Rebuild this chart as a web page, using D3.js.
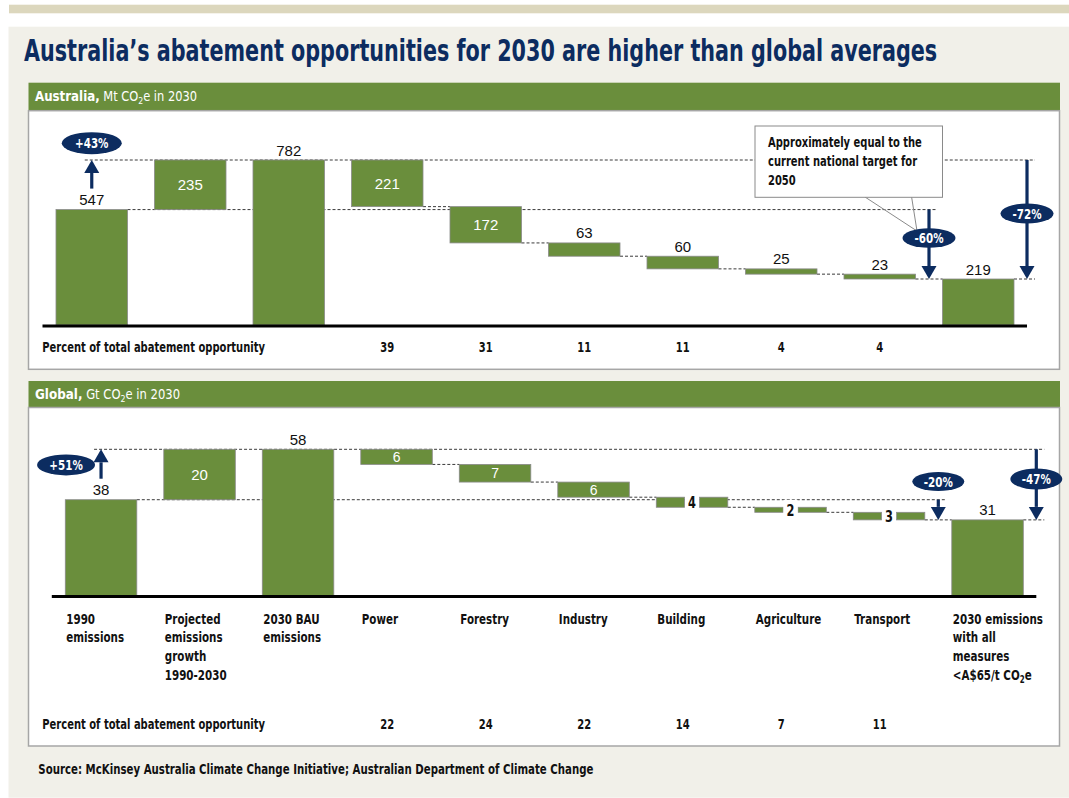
<!DOCTYPE html>
<html><head><meta charset="utf-8">
<script src="https://cdn.jsdelivr.net/npm/d3@7"></script>
<style>body{margin:0;background:#fff}svg{display:block}</style>
</head><body><svg id="c" width="1069" height="798"></svg>
<script>
// ---------- DATA ----------
const titleText = "Australia’s abatement opportunities for 2030 are higher than global averages";
const categories = [
  ["1990","emissions"],
  ["Projected","emissions","growth","1990-2030"],
  ["2030 BAU","emissions"],
  ["Power"],["Forestry"],["Industry"],["Building"],["Agriculture"],["Transport"],
  ["2030 emissions","with all","measures","<A$65/t CO₂e"]
];
const stepTypes = ["total","increase","total","decrease","decrease","decrease","decrease","decrease","decrease","result"];
const ausValues = [547, 235, 782, 221, 172, 63, 60, 25, 23, 219];
const ausPercent = [null, null, null, 39, 31, 11, 11, 4, 4, null];
const globalValues = [38, 20, 58, 6, 7, 6, 4, 2, 3, 31];
const globalPercent = [null, null, null, 22, 24, 22, 14, 7, 11, null];
const ausChanges = ["+43%", "-60%", "-72%"];
const globalChanges = ["+51%", "-20%", "-47%"];
const ausHeader = ["Australia,", " Mt CO₂e in 2030"];
const globalHeader = ["Global,", " Gt CO₂e in 2030"];
const percentRowLabel = "Percent of total abatement opportunity";
const calloutLines = ["Approximately equal to the", "current national target for", "2050"];
const sourceText = "Source: McKinsey Australia Climate Change Initiative; Australian Department of Climate Change";

// ---------- STYLE ----------
const NARROW = "'Liberation Sans Narrow','Arial Narrow','DejaVu Sans Condensed',sans-serif";
const SANS = "'Liberation Sans',Arial,'DejaVu Sans',sans-serif";
const GREEN = "#6a8e3c", NAVY = "#0c2c60", DASH = "#3a3a3a", BORDER = "#a6a6a6";

const svg = d3.select("#c");

// measure condensation factor for the narrow bold face (reference label width 223px at 14px)
const probe = svg.append("text").attr("font-family", NARROW).attr("font-weight", "bold").attr("font-size", 14).text(percentRowLabel);
const F = Math.min(1, 223 / probe.node().getComputedTextLength());
probe.remove();

// narrow text helper: group with horizontal squeeze
function nt(parent, x, y, opts = {}) {
  const g = parent.append("g").attr("transform", `translate(${x},${y}) scale(${opts.sx || F},1)`);
  return g.append("text").attr("x", 0).attr("y", 0)
    .attr("font-family", NARROW).attr("font-weight", opts.weight || "bold")
    .attr("font-size", opts.size || 14).attr("fill", opts.fill || "#111")
    .attr("text-anchor", opts.anchor || "start");
}
function fitTo(textSel, width) {
  const w = textSel.node().getBBox().width;
  const g = d3.select(textSel.node().parentNode);
  const tr = g.attr("transform").replace(/scale\([^)]*\)/, `scale(${width / w},1)`);
  g.attr("transform", tr);
}

function richText(sel, str, subSize) {
  const parts = str.split("₂");
  parts.forEach((p, k) => {
    if (k > 0) {
      sel.append("tspan").attr("font-size", subSize).attr("dy", 3).text("2");
      sel.append("tspan").attr("dy", -3).text(p);
    } else sel.append("tspan").text(p);
  });
}

function waterfall(values) {
  let run = 0;
  return values.map((v, i) => {
    const t = stepTypes[i]; let y0, y1;
    if (t === "total") { y0 = 0; y1 = v; run = v; }
    else if (t === "increase") { y0 = run; y1 = run + v; run = y1; }
    else if (t === "decrease") { y1 = run; y0 = run - v; run = y0; }
    else { y0 = 0; y1 = run; }
    return { i, v, t, y0, y1, end: run };
  });
}

function arrow(g, x, yFrom, yTo) {
  const dir = yTo > yFrom ? 1 : -1, head = 13, hw = 7.5;
  g.append("line").attr("x1", x).attr("x2", x).attr("y1", yFrom).attr("y2", yTo - dir * head)
    .attr("stroke", NAVY).attr("stroke-width", 3.2);
  g.append("path").attr("d", `M${x - hw},${yTo - dir * head}L${x + hw},${yTo - dir * head}L${x},${yTo}Z`)
    .attr("fill", NAVY);
}
function badge(g, cx, cy, label, rx, ry) {
  g.append("ellipse").attr("cx", cx).attr("cy", cy).attr("rx", rx).attr("ry", ry).attr("fill", NAVY);
  nt(g, cx, cy, { anchor: "middle", fill: "#fff", size: 14.5 }).attr("dy", "0.36em").text(label);
}
function dashed(g, x1, x2, y) {
  g.append("line").attr("x1", x1).attr("x2", x2).attr("y1", y).attr("y2", y)
    .attr("stroke", DASH).attr("stroke-width", 1).attr("stroke-dasharray", "3,2");
}

// ---------- BACKGROUND ----------
svg.append("rect").attr("x", 9).attr("y", 4.7).attr("width", 1060).attr("height", 8.6).attr("fill", "#dcd7bd");
svg.append("rect").attr("x", 8.5).attr("y", 26.7).attr("width", 1060.5).attr("height", 771).attr("fill", "#f1f0e9");
const title = nt(svg, 24, 61, { size: 30, fill: NAVY }).text(titleText);
fitTo(title, 913);

// Australia x scale is also used for the percent rows of both panels
const ausX = d3.scaleBand().domain(d3.range(ausValues.length)).range([42.5, 1027.5]).paddingInner(0.274).paddingOuter(0.137);

function panel(cfg) {
  const g = svg.append("g");
  // header + body
  g.append("rect").attr("x", 28.5).attr("y", cfg.headTop).attr("width", 1031.5).attr("height", cfg.headH).attr("fill", GREEN);
  g.append("rect").attr("x", 28.5).attr("y", cfg.headTop + cfg.headH).attr("width", 1031)
    .attr("height", cfg.bodyBottom - cfg.headTop - cfg.headH).attr("fill", "#fff").attr("stroke", BORDER).attr("stroke-width", 1.5);
  const ht = nt(g, 35, cfg.headTop + 18.3, { fill: "#fff", weight: "normal", size: 14 });
  ht.append("tspan").attr("font-weight", "bold").attr("font-size", 14.5).text(cfg.header[0]);
  richText(ht, cfg.header[1], 9.5);
  fitTo(ht, cfg.headerW);

  const x = d3.scaleBand().domain(d3.range(cfg.values.length)).range(cfg.xRange).paddingInner(0.274).paddingOuter(0.137);
  const bw = x.bandwidth();
  const steps = waterfall(cfg.values);
  const top = steps[2].y1;
  const y = d3.scaleLinear().domain([0, top]).range(cfg.yRange);
  const final = steps[steps.length - 1];
  const last = steps.length - 1;

  const upX = x(0) + bw / 2;
  const d1X = (x(last - 1) + bw + x(last)) / 2;
  const d2X = x(last) + bw + 13;

  // dashed guide lines
  dashed(g, upX - 7, d2X + 8, y(top));
  dashed(g, x(0) + bw, d1X + 8, y(steps[0].y1));
  for (let i = 3; i < last; i++) dashed(g, x(i) + bw, x(i + 1), y(steps[i].end));
  dashed(g, x(last) + bw, d2X + 8, y(final.y1));

  // bars
  steps.forEach((s, i) => {
    if (cfg.modes[i] === "split") {
      const cx = x(i) + bw / 2, gap = 15;
      [[x(i), cx - gap / 2], [cx + gap / 2, x(i) + bw]].forEach(([a, b]) =>
        g.append("rect").attr("x", a).attr("y", y(s.y1)).attr("width", b - a).attr("height", y(s.y0) - y(s.y1))
          .attr("fill", GREEN).attr("stroke", "#8a8a8a").attr("stroke-width", 0.8));
    } else {
      g.append("rect").attr("x", x(i)).attr("y", y(s.y1)).attr("width", bw).attr("height", y(s.y0) - y(s.y1))
        .attr("fill", GREEN).attr("stroke", "#8a8a8a").attr("stroke-width", 0.8);
    }
  });
  // baseline
  g.append("line").attr("x1", cfg.xRange[0]).attr("x2", d2X).attr("y1", y(0) + 1).attr("y2", y(0) + 1)
    .attr("stroke", "#000").attr("stroke-width", 3.2);

  // value labels
  steps.forEach((s, i) => {
    const cx = x(i) + bw / 2, m = cfg.modes[i];
    if (m === "above") {
      g.append("text").attr("x", cx).attr("text-anchor", "middle").text(cfg.values[i])
        .attr("y", y(s.y1) - 4.5).attr("font-family", SANS).attr("font-size", 15).attr("fill", "#111");
    } else if (m === "inside") {
      const h = y(s.y0) - y(s.y1);
      g.append("text").attr("x", cx).attr("text-anchor", "middle").text(cfg.values[i])
        .attr("y", (y(s.y0) + y(s.y1)) / 2).attr("dy", "0.36em").attr("font-family", SANS)
        .attr("font-size", h > 25 ? 15 : 14).attr("fill", "#fff");
    } else {
      const cy = (y(s.y0) + y(s.y1)) / 2;
      g.append("rect").attr("x", cx - 7).attr("y", cy - 10).attr("width", 14).attr("height", 20).attr("fill", "#fff");
      nt(g, cx, cy, { anchor: "middle", size: 16 }).attr("dy", "0.36em").text(cfg.values[i]);
    }
  });

  // arrows and badges
  const upTail = y(steps[0].y1) - 21, upTip = y(top);
  arrow(g, upX, upTail, upTip);
  arrow(g, d1X, y(steps[0].y1), y(final.y1));
  arrow(g, d2X, y(top), y(final.y1));

  if (cfg.callout) cfg.callout(g, d1X);

  const b = cfg.badges;
  badge(g, upX + b[0].dx, upTail + b[0].t * (upTip - upTail), cfg.changes[0], b[0].rx, b[0].ry);
  badge(g, d1X, y(steps[0].y1) + b[1].t * (y(final.y1) - y(steps[0].y1)), cfg.changes[1], b[1].rx, b[1].ry);
  badge(g, d2X, y(top) + b[2].t * (y(final.y1) - y(top)), cfg.changes[2], b[2].rx, b[2].ry);

  // category labels
  if (cfg.showCategories) {
    categories.forEach((lines, i) => {
      const t = nt(g, x(i) + 1, cfg.catY, { size: 14.5 });
      lines.forEach((ln, k) => {
        const tl = t.append("tspan").attr("x", 0).attr("y", k * 19);
        richText(tl, ln, 10);
      });
    });
  }

  // percent row
  nt(g, 42.3, cfg.pctY).text(percentRowLabel);
  cfg.percent.forEach((p, i) => {
    if (p == null) return;
    nt(g, ausX(i) + ausX.bandwidth() / 2, cfg.pctY, { anchor: "middle" }).text(p);
  });
}

panel({
  values: ausValues, percent: ausPercent, changes: ausChanges, header: ausHeader, headerW: 162,
  headTop: 82.7, headH: 28, bodyBottom: 369.3,
  xRange: [42.5, 1027.5], yRange: [325, 160],
  modes: ["above","inside","above","inside","inside","above","above","above","above","above"],
  badges: [{dx: 0, t: 1.59, rx: 30, ry: 11}, {t: 0.41, rx: 26.5, ry: 9.8}, {t: 0.45, rx: 26.5, ry: 10}],
  showCategories: false, pctY: 352,
  callout: (g, ax) => {
    g.append("line").attr("x1", 865).attr("y1", 197).attr("x2", ax - 12).attr("y2", 231).attr("stroke", "#8a8a8a").attr("stroke-width", 1);
    g.append("line").attr("x1", 911.6).attr("y1", 197).attr("x2", ax - 12).attr("y2", 231).attr("stroke", "#8a8a8a").attr("stroke-width", 1);
    g.append("rect").attr("x", 755).attr("y", 126).attr("width", 187.5).attr("height", 71.3)
      .attr("fill", "#fff").attr("stroke", "#8a8a8a").attr("stroke-width", 1);
    calloutLines.forEach((ln, k) => {
      nt(g, 768, 147 + k * 19).text(ln);
    });
  }
});

panel({
  values: globalValues, percent: globalPercent, changes: globalChanges, header: globalHeader, headerW: 145,
  headTop: 381, headH: 26.5, bodyBottom: 746,
  xRange: [51.8, 1036.8], yRange: [595.5, 449.3],
  modes: ["above","inside","above","inside","inside","inside","split","split","split","above"],
  badges: [{dx: -35, t: 0.47, rx: 29, ry: 10.5}, {t: -0.9, rx: 26, ry: 9.5}, {t: 0.42, rx: 26, ry: 10.5}],
  showCategories: true, catY: 623.5, pctY: 728.5
});

const src = nt(svg, 38.3, 774).text(sourceText);
fitTo(src, 555);
</script>
</body></html>
